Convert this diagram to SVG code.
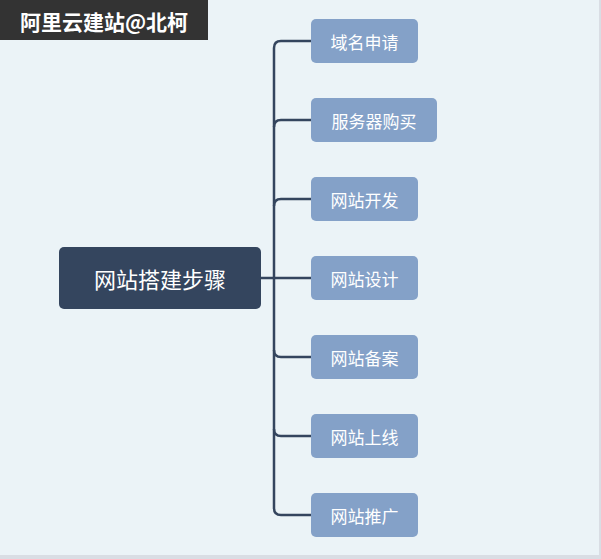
<svg xmlns="http://www.w3.org/2000/svg" width="601" height="559" viewBox="0 0 601 559">
<style>
.n rect{fill:#84a1c8}
.n text{fill:#fff;font-family:"Noto Sans CJK SC",sans-serif;font-size:17px;text-anchor:middle;dominant-baseline:central}
.c path{fill:none;stroke:#34455e;stroke-width:2.5}
</style>
<rect width="601" height="559" fill="#d9dde4"/>
<rect width="599" height="555" fill="#ebf3f7"/>
<g id="title"><rect width="208" height="40" fill="#333"/><text x="104" y="21" fill="#fff" font-family="Noto Sans CJK SC,sans-serif" font-size="21" font-weight="bold" text-anchor="middle" dominant-baseline="central">阿里云建站@北柯</text></g>
<g class="c">
<path d="M261 278H311"/>
<path d="M311 41H281Q274 41 274 48V508Q274 515 281 515H311"/>
<path d="M311 120H281Q274 120 274 127"/>
<path d="M311 199H281Q274 199 274 206"/>
<path d="M311 357H281Q274 357 274 350"/>
<path d="M311 436H281Q274 436 274 429"/>
</g>
<g id="root"><rect x="59" y="247" width="202" height="62" rx="5" fill="#34455e"/><text x="160" y="278" fill="#fff" font-family="Noto Sans CJK SC,sans-serif" font-size="22" text-anchor="middle" dominant-baseline="central">网站搭建步骤</text></g>
<g id="n1" class="n"><rect x="311" y="19" width="107" height="44" rx="5"/><text x="364.5" y="41">域名申请</text></g>
<g id="n2" class="n"><rect x="311" y="98" width="126" height="44" rx="5"/><text x="374" y="120">服务器购买</text></g>
<g id="n3" class="n"><rect x="311" y="177" width="107" height="44" rx="5"/><text x="364.5" y="199">网站开发</text></g>
<g id="n4" class="n"><rect x="311" y="256" width="107" height="44" rx="5"/><text x="364.5" y="278">网站设计</text></g>
<g id="n5" class="n"><rect x="311" y="335" width="107" height="44" rx="5"/><text x="364.5" y="357">网站备案</text></g>
<g id="n6" class="n"><rect x="311" y="414" width="107" height="44" rx="5"/><text x="364.5" y="436">网站上线</text></g>
<g id="n7" class="n"><rect x="311" y="493" width="107" height="44" rx="5"/><text x="364.5" y="515">网站推广</text></g>
</svg>
